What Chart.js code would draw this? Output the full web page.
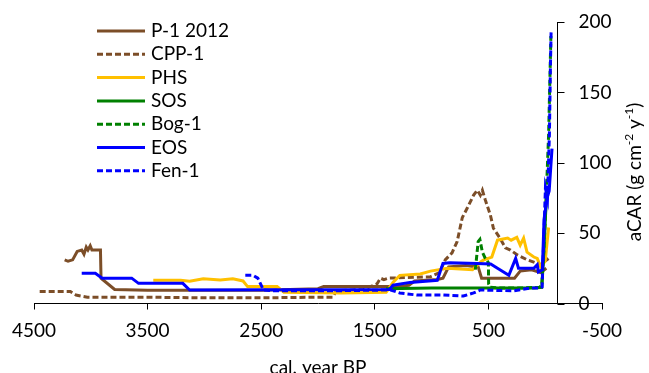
<!DOCTYPE html>
<html>
<head>
<meta charset="utf-8">
<script src="https://cdn.jsdelivr.net/npm/chart.js@4.4.1/dist/chart.umd.min.js"></script>
<style>
  html, body { margin: 0; padding: 0; background: #fff; }
  #wrap { width: 649px; height: 373px; }
</style>
</head>
<body>
<div id="wrap"><canvas id="chart"></canvas></div>
<script>
// axis ticks
const xTicks = [4500, 3500, 2500, 1500, 500, -500];
const yTicks = [0, 50, 100, 150, 200];
const yAxisAt = -100;

// series (cal. year BP, aCAR)
const p1Year = [4230, 4200, 4160, 4120, 4080, 4060, 4040, 4025, 4005, 3990, 3915, 3910, 3790, 3500, 3000, 2500, 2000, 1950, 1300, 1200, 1150, 950, 900, 850, 700, 590, 560, 400, 270, 220, 120, 40, -10];
const p1Acar = [31, 30, 31, 37, 38, 35, 40, 38, 41, 38, 38, 18, 10, 9.5, 9.5, 9.5, 10.5, 12, 12, 13, 16, 17, 18, 26, 27, 26, 18, 18, 18, 23, 24, 22, 25];

const cppYear = [4450, 4180, 4130, 4030, 3500, 3000, 2500, 2000, 1870, 1840, 1600, 1480, 1450, 1420, 1380, 1010, 930, 880, 820, 775, 730, 685, 630, 597, 571, 553, 527, 483, 456, 395, 350, 306, 245, 157, 86, 42, -29];
const cppAcar = [8.5, 8.5, 6, 4.5, 4.5, 4, 4, 4.5, 4.5, 9, 10, 14, 18, 17, 18, 19, 22, 31, 36, 44, 61, 68, 77, 80.5, 77, 80.5, 73.5, 63, 53.5, 46, 39.5, 38, 34.5, 31, 29, 27.5, 32];

const phsYear = [3450, 3210, 3130, 3010, 2860, 2750, 2660, 2620, 2360, 2300, 1800, 1400, 1340, 1280, 1100, 1010, 860, 640, 560, 540, 470, 420, 330, 300, 250, 220, 190, 160, 100, 70, 40, 0, -30];
const phsAcar = [16.5, 16.5, 15.8, 17.5, 16.7, 17.5, 16, 12, 12, 8, 7.5, 8, 15, 20, 21, 23, 25, 24, 30, 31, 33, 45, 46.5, 45, 47, 41.5, 46.5, 36.5, 33, 32, 26, 30, 54];

const sosYear = [1400, 1000, 500, 100, 30, 10, -10, -30];
const sosAcar = [10.5, 11, 11, 11, 11.5, 40, 75, 80];

const bogYear = [615, 590, 575, 553, 527, 500, 498, 483, 400, 200, 50, 30, 10, -10, -30, -50];
const bogAcar = [24, 44, 45.5, 36.5, 32, 29, 14, 11.5, 11, 11, 11.5, 13, 40, 78, 120, 190];

const eosYear = [4080, 3960, 3900, 3640, 3580, 3190, 3130, 1370, 1340, 1190, 950, 900, 840, 600, 480, 420, 370, 320, 260, 235, 100, 70, 60, 25, 10, -17, -35, -60];
const eosAcar = [21.5, 21.5, 18, 18, 14.3, 14.3, 9.6, 10, 13, 15, 16.5, 28.5, 29, 28.5, 28, 25, 22.5, 20, 32, 25, 25, 27.5, 22.5, 24, 60, 75, 80, 110];

const fenYear = [2640, 2570, 2530, 2480, 2400, 1900, 1360, 1280, 1130, 900, 720, 630, 570, 280, 130, 40, 27, -2, -20, -37, -46, -52];
const fenAcar = [20, 20, 18, 9.6, 9, 9, 9.6, 7.5, 6, 6, 5.3, 7.5, 9.6, 9, 11, 11, 11.7, 82, 75, 120, 168, 193];

const brown = 'rgb(124, 78, 40)';
const gold = 'rgb(255, 192, 0)';
const green = 'rgb(0, 128, 0)';
const blue = 'rgb(0, 0, 255)';
const dash = [6, 3];
const font = '19px Lato';

function pts(xs, ys) {
    return xs.map((v, i) => ({ x: v, y: ys[i] }));
}

const series = [
    { label: 'P-1 2012', data: pts(p1Year, p1Acar), color: brown, dash: [] },
    { label: 'CPP-1', data: pts(cppYear, cppAcar), color: brown, dash: dash },
    { label: 'PHS', data: pts(phsYear, phsAcar), color: gold, dash: [] },
    { label: 'SOS', data: pts(sosYear, sosAcar), color: green, dash: [] },
    { label: 'Bog-1', data: pts(bogYear, bogAcar), color: green, dash: dash },
    { label: 'EOS', data: pts(eosYear, eosAcar), color: blue, dash: [] },
    { label: 'Fen-1', data: pts(fenYear, fenAcar), color: blue, dash: dash }
];

// y axis crossing inside the plot, legend and axis titles
const extras = {
    id: 'extras',
    afterDraw(chart) {
        const { ctx, chartArea, scales: { x, y } } = chart;
        const ax = Math.round(x.getPixelForValue(yAxisAt)) + 0.5;
        ctx.save();
        ctx.strokeStyle = '#000';
        ctx.lineWidth = 1;
        ctx.setLineDash([]);
        ctx.beginPath();
        ctx.moveTo(ax, y.getPixelForValue(yTicks[yTicks.length - 1]));
        ctx.lineTo(ax, y.getPixelForValue(yTicks[0]));
        yTicks.forEach(t => {
            const py = Math.round(y.getPixelForValue(t)) + 0.5;
            ctx.moveTo(ax, py);
            ctx.lineTo(ax + 7, py);
        });
        ctx.stroke();

        ctx.fillStyle = '#000';
        ctx.font = font;
        ctx.textAlign = 'left';
        ctx.textBaseline = 'middle';
        yTicks.forEach(t => ctx.fillText(String(t), ax + 21, y.getPixelForValue(t)));

        // legend
        series.forEach((s, i) => {
            const ly = 31 + i * 23.3;
            ctx.strokeStyle = s.color;
            ctx.lineWidth = 3;
            ctx.setLineDash(s.dash);
            ctx.beginPath();
            ctx.moveTo(97, ly);
            ctx.lineTo(145, ly);
            ctx.stroke();
            ctx.fillText(s.label, 151, ly);
        });
        ctx.setLineDash([]);

        // x title
        ctx.textAlign = 'center';
        ctx.fillText('cal. year BP', (chartArea.left + chartArea.right) / 2, 368);

        // y title with superscripts
        const parts = [['aCAR (g cm', 0], ['-2', 1], [' y', 0], ['-1', 1], [')', 0]];
        const supFont = '12px Lato';
        let total = 0;
        parts.forEach(p => {
            ctx.font = p[1] ? supFont : font;
            total += ctx.measureText(p[0]).width;
        });
        ctx.translate(635, 172);
        ctx.rotate(-Math.PI / 2);
        ctx.textAlign = 'left';
        let cx = -total / 2;
        parts.forEach(p => {
            ctx.font = p[1] ? supFont : font;
            ctx.fillText(p[0], cx, p[1] ? -6 : 0);
            cx += ctx.measureText(p[0]).width;
        });
        ctx.restore();
    }
};

const chart = new Chart(document.getElementById('chart'), {
    type: 'line',
    data: {
        datasets: series.map((s, i) => ({
            label: s.label,
            data: s.data,
            borderColor: s.color,
            backgroundColor: s.color,
            borderDash: s.dash,
            borderWidth: 3,
            pointRadius: 0,
            tension: 0,
            order: series.length - i
        }))
    },
    options: {
        responsive: true,
        maintainAspectRatio: false,
        animation: false,
        layout: { padding: { left: 34, right: 47, top: 22, bottom: 0 } },
        plugins: {
            legend: { display: false },
            tooltip: { enabled: false }
        },
        scales: {
            x: {
                type: 'linear',
                reverse: true,
                min: -500,
                max: 4500,
                afterBuildTicks: s => { s.ticks = xTicks.map(v => ({ value: v })); },
                afterFit: s => { s.height = 69.5; },
                grid: { drawOnChartArea: false, drawTicks: true, tickLength: 6, color: '#000' },
                border: { display: true, color: '#000', width: 1 },
                ticks: {
                    font: { family: 'Lato', size: 19 },
                    color: '#000',
                    padding: 10,
                    autoSkip: false,
                    maxRotation: 0,
                    callback: v => String(v)
                }
            },
            y: {
                display: false,
                min: 0,
                max: 200
            }
        }
    },
    plugins: [extras]
});
</script>
</body>
</html>
